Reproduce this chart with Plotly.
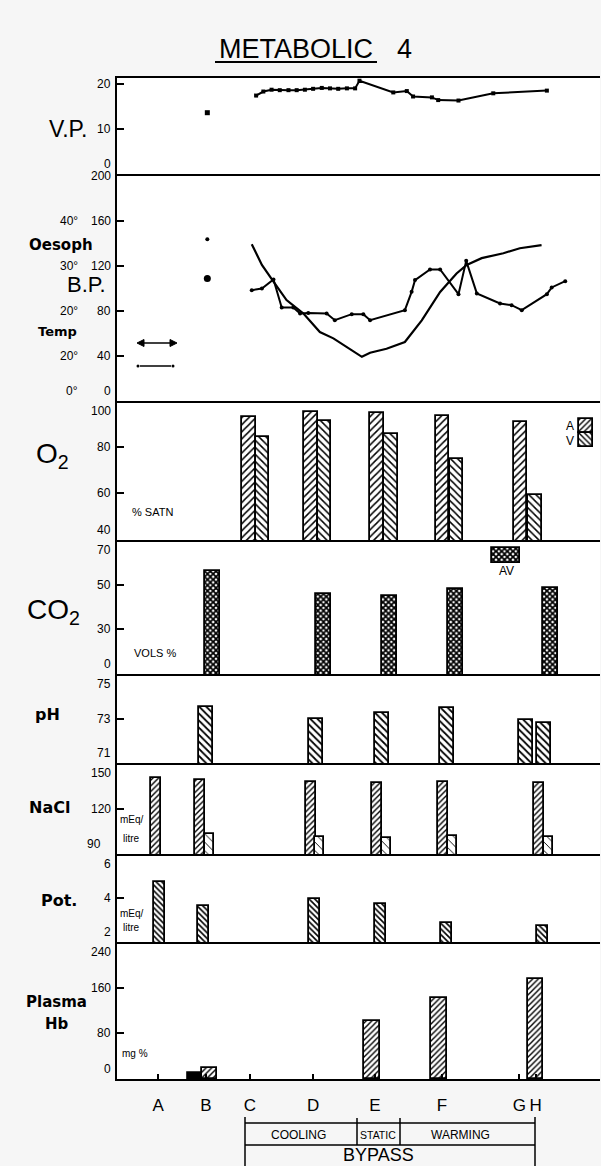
import plotly.graph_objects as go

# ---------------- data (x = time position, arbitrary units 0-100) ----------------
letters  = ["A", "B", "C", "D", "E", "F", "G", "H"]
letter_x = [8.5, 18.4, 27.5, 40.6, 53.4, 67.3, 83.3, 86.7]

vp_pre_x = [18.7]
vp_pre   = [13.6]
vp_x = [28.8, 30.3, 32.0, 33.7, 35.5, 37.2, 38.9, 40.6, 42.4, 44.1, 45.8, 47.6, 49.3,
        50.2, 57.2, 60.0, 61.3, 65.2, 66.5, 70.7, 77.9, 89.0]
vp   = [17.4, 18.3, 18.7, 18.6, 18.6, 18.6, 18.7, 18.9, 19.1, 19.0, 18.9, 19.0, 19.0,
        20.7, 18.1, 18.4, 17.2, 17.0, 16.4, 16.3, 17.9, 18.5]

bp_pre_x = [18.7]
bp_pre   = [108.8]
bp_x = [27.9, 30.0, 32.4, 34.1, 36.5, 37.9, 39.6, 43.4, 45.1, 48.6, 51.0, 52.4, 59.6,
        61.0, 61.7, 64.8, 66.9, 70.7, 72.3, 74.5, 79.3, 81.7, 83.8, 89.0, 90.0, 92.8]
bp   = [98.4, 99.9, 107.9, 83.0, 83.0, 77.7, 78.2, 77.7, 71.7, 77.1, 77.1, 71.7, 80.6,
        96.9, 107.3, 116.8, 116.8, 94.8, 124.4, 95.5, 86.6, 85.1, 80.6, 94.8, 100.8, 106.4]

temp_pre_x = [18.7]
temp_pre   = [35.9]
temp_x = [27.9, 30.0, 32.4, 35.1, 38.6, 42.0, 44.8, 50.7, 52.4, 55.8, 59.6, 63.1, 66.9,
          70.3, 72.4, 75.5, 80.0, 83.4, 87.9]
temp   = [34.8, 30.2, 26.5, 22.4, 19.4, 15.3, 13.9, 9.8, 10.7, 11.6, 13.1, 17.9, 24.2,
          28.3, 30.2, 31.7, 32.8, 33.9, 34.6]

o2_art_x = [27.3, 40.2, 53.8, 67.4, 83.5]
o2_art   = [93.2, 95.4, 94.6, 93.6, 91.0]
o2_ven_x = [30.1, 43.0, 56.7, 70.3, 86.5]
o2_ven   = [84.5, 91.3, 85.5, 74.8, 59.1]

co2_x = [19.8, 42.8, 56.4, 70.1, 89.8]
co2   = [56.0, 45.6, 45.0, 48.0, 48.5]

ph_x = [18.4, 41.1, 54.8, 68.3, 84.7, 88.4]
ph   = [7.35, 7.30, 7.325, 7.345, 7.295, 7.28]

nacl_x  = [8.1, 17.2, 40.2, 53.8, 67.5, 87.4]
nacl    = [140.0, 139.0, 137.5, 136.5, 137.5, 137.0]
nacl2_x = [19.2, 42.0, 55.8, 69.5, 89.3]
nacl2   = [103.5, 101.5, 100.5, 102.0, 101.5]

pot_x = [8.8, 17.9, 40.9, 54.5, 68.2, 88.1]
pot   = [4.73, 3.64, 3.95, 3.73, 2.86, 2.73]

hb_x  = [19.2, 52.8, 66.7, 86.6]
hb    = [19, 101, 142, 175]
hb0_x = [16.1]
hb0   = [10]

# ---------------- geometry helpers ----------------
W_FIG, H_FIG = 601, 1166
L, R_PIX = 117, 600
TOP, BOT = 78, 1079
PW, PH = R_PIX - L, BOT - TOP
FONT = "Liberation Sans"
BOLD = "DejaVu Sans"


def px(x):
    return (x - L) / PW


def py(y):
    return (BOT - y) / PH


# panel: pixel top, pixel bottom, range, tick labels, tick marks
panels = [
    dict(top=78,  bot=174,  rng=[0, 21.3],   labels=[(20, "20"), (10, "10"), (0, "0")], marks=[20, 10]),
    dict(top=174, bot=401,  rng=[0, 201.5],  labels=[(200, "200"), (160, "160"), (120, "120"), (80, "80"), (40, "40"), (0, "0")], marks=[160, 120, 80, 40]),
    dict(top=401, bot=540,  rng=[39.6, 100], labels=[(100, "100"), (80, "80"), (60, "60"), (39.6, "40")], marks=[80, 60]),
    dict(top=540, bot=674,  rng=[10, 70],    labels=[(70, "70"), (50, "50"), (30, "30"), (10, "0")], marks=[50, 30]),
    dict(top=674, bot=763,  rng=[7.1, 7.5],  labels=[(7.5, "75"), (7.3, "73"), (7.1, "71")], marks=[7.3]),
    dict(top=763, bot=854,  rng=[90, 150],   labels=[(150, "150"), (120, "120"), (90, "90")], marks=[120]),
    dict(top=854, bot=942,  rng=[2, 6],      labels=[(6, "6"), (4, "4"), (2, "2")], marks=[4]),
    dict(top=942, bot=1079, rng=[0, 240],    labels=[(240, "240"), (160, "160"), (80, "80"), (0, "0")], marks=[160, 80]),
]


def axname(i, kind):
    return kind if i == 1 else f"{kind}{i}"


def ref(i, kind):
    return kind[0] if i == 1 else f"{kind[0]}{i}"


def to_data(i, ypix):
    p = panels[i - 1]
    lo, hi = p["rng"]
    return lo + (p["bot"] - ypix) / (p["bot"] - p["top"]) * (hi - lo)


def xdata(xpix):
    return (xpix - L) / PW * 100


fig = go.Figure()

line = dict(color="black", width=1.8)


def pat(shape, size=5, sol=0.35, fg="black"):
    return dict(shape=shape, fgcolor=fg, bgcolor="white", size=size, solidity=sol, fillmode="replace")


def bar(i, x, y, w, shape, size=5, sol=0.35, fg="black", base=None, color="white"):
    b = go.Bar(x=x, y=y, width=[w] * len(x), base=base, xaxis=ref(i, "x"), yaxis=ref(i, "y"),
               marker=dict(color=color, line=line, pattern=pat(shape, size, sol, fg) if shape else None),
               showlegend=False, hoverinfo="skip")
    fig.add_trace(b)


# VP
fig.add_trace(go.Scatter(x=vp_pre_x, y=vp_pre, mode="markers", marker=dict(symbol="square", size=5, color="black"),
                         xaxis="x", yaxis="y", showlegend=False))
fig.add_trace(go.Scatter(x=vp_x, y=vp, mode="lines+markers", line=dict(color="black", width=2),
                         marker=dict(symbol="square", size=4, color="black"), xaxis="x", yaxis="y", showlegend=False))
# BP & temp
fig.add_trace(go.Scatter(x=bp_pre_x, y=bp_pre, mode="markers", marker=dict(size=7, color="black"),
                         xaxis="x2", yaxis="y2", showlegend=False))
fig.add_trace(go.Scatter(x=bp_x, y=bp, mode="lines+markers", line=dict(color="black", width=2),
                         marker=dict(size=4, color="black"), xaxis="x2", yaxis="y2", showlegend=False))
fig.add_trace(go.Scatter(x=temp_pre_x, y=temp_pre, mode="markers", marker=dict(size=4, color="black"),
                         xaxis="x2", yaxis="y9", showlegend=False))
fig.add_trace(go.Scatter(x=temp_x, y=temp, mode="lines", line=dict(color="black", width=2.2),
                         xaxis="x2", yaxis="y9", showlegend=False))
# O2
bar(3, o2_art_x, o2_art, 2.8, "/", 5, 0.3)
bar(3, o2_ven_x, o2_ven, 2.8, "\\", 5, 0.3)
# CO2
bar(4, co2_x, co2, 3.1, "x", 4, 0.7)
# pH
bar(5, ph_x, ph, 2.9, "\\", 5, 0.35)
# NaCl
bar(6, nacl_x, nacl, 2.1, "/", 4, 0.35)
bar(6, nacl2_x, nacl2, 1.9, "\\", 6, 0.15)
# Pot
bar(7, pot_x, pot, 2.3, "\\", 4, 0.4)
# Hb
bar(8, hb0_x, hb0, 2.9, None, color="black")
bar(8, hb_x, hb, 3.2, "/", 4, 0.35)

# legend keys (O2: A / V boxes, CO2: AV box)
ka = to_data(3, 419); kb = to_data(3, 433); kc = to_data(3, 447)
bar(3, [xdata(586)], [ka - kb], 2.9, "/", 4, 0.35, base=[kb])
bar(3, [xdata(586)], [kb - kc], 2.9, "\\", 4, 0.35, base=[kc])
c1 = to_data(4, 548); c2 = to_data(4, 563)
bar(4, [xdata(506)], [c1 - c2], 5.8, "x", 4, 0.7, base=[c2])

layout = dict(
    width=W_FIG, height=H_FIG,
    margin=dict(l=L, r=W_FIG - R_PIX, t=TOP, b=H_FIG - BOT),
    paper_bgcolor="#f6f6f6", plot_bgcolor="white",
    barmode="overlay", bargap=0, showlegend=False,
    font=dict(family=FONT, color="black"),
)

for i, p in enumerate(panels, start=1):
    xa = dict(domain=[0, 1], anchor=ref(i, "y"), range=[0, 100], showline=True, mirror=(i == 1),
              linecolor="black", linewidth=2.2, showgrid=False, zeroline=False,
              showticklabels=False, ticks="")
    if i > 1:
        xa["matches"] = "x"
    if i == 8:
        xa.update(ticks="inside", ticklen=5, tickwidth=1.5, tickcolor="black",
                  tickvals=letter_x, ticktext=letters, showticklabels=True, tickangle=0,
                  tickfont=dict(size=17, family=FONT), ticklabelstandoff=9)
    layout[axname(i, "xaxis")] = xa
    layout[axname(i, "yaxis")] = dict(
        domain=[py(p["bot"]), py(p["top"])], range=p["rng"], anchor=ref(i, "x"),
        showline=True, linecolor="black", linewidth=2.2, showgrid=False, zeroline=False,
        ticks="inside", tickvals=p["marks"], ticklen=7, tickwidth=2, tickcolor="black",
        showticklabels=False)

layout["yaxis9"] = dict(overlaying="y2", range=[0, panels[1]["rng"][1] / 4], anchor="x2", visible=False)

annotations = []
shapes = []

# tick labels
for i, p in enumerate(panels, start=1):
    lo, hi = p["rng"]
    for v, t in p["labels"]:
        anchor = "top" if v == hi else ("bottom" if v == lo else "middle")
        ys = -1 if anchor == "top" else (1 if anchor == "bottom" else 0)
        xs = -4
        if t == "90":
            xs = -14
        annotations.append(dict(x=0, xref="paper", y=v, yref=ref(i, "y"), text=t, showarrow=False,
                                xanchor="right", yanchor=anchor, xshift=xs, yshift=ys,
                                font=dict(size=12, family=FONT)))

# temperature scale labels in the BP panel
for v, t in [(40, "40°"), (30, "30°"), (20, "20°"), (10, "20°"), (0, "0°")]:
    annotations.append(dict(x=px(80), xref="paper", y=v, yref="y9", text=t, showarrow=False,
                            xanchor="right", yanchor="bottom" if v == 0 else "middle",
                            yshift=1 if v == 0 else 0,
                            font=dict(size=12, family=FONT)))

# panel names
names = [
    ("V.P.", 68, 129, 23, FONT, "normal"),
    ("Oesoph", 61, 245, 15, BOLD, "bold"),
    ("B.P.", 86, 284, 22, FONT, "normal"),
    ("Temp", 57, 331, 13, BOLD, "bold"),
    ("O<sub>2</sub>", 52, 455, 28, FONT, "normal"),
    ("CO<sub>2</sub>", 53, 612, 28, FONT, "normal"),
    ("pH", 47, 714, 16, BOLD, "bold"),
    ("NaCl", 49, 807, 16, BOLD, "bold"),
    ("Pot.", 59, 900, 16, BOLD, "bold"),
    ("Plasma", 56, 1002, 15, BOLD, "bold"),
    ("Hb", 57, 1024, 15, BOLD, "bold"),
]
for t, x, y, s, f, w in names:
    annotations.append(dict(x=px(x), y=py(y), xref="paper", yref="paper", text=t, showarrow=False,
                            xanchor="center", yanchor="middle", font=dict(size=s, family=f, weight=w)))

# unit notes inside panels
notes = [
    ("% SATN", 130, 512, 11), ("VOLS %", 132, 653, 11),
    ("mEq/", 118, 819, 10), ("litre", 121, 838, 10),
    ("mEq/", 118, 913, 10), ("litre", 121, 927, 10),
    ("mg %", 120, 1053, 10),
]
for t, x, y, s in notes:
    annotations.append(dict(x=px(x), y=py(y), xref="paper", yref="paper", text=t, showarrow=False,
                            xanchor="left", yanchor="middle", font=dict(size=s, family=FONT)))

# legend key texts
for t, x, y in [("A", 570, 426), ("V", 570, 441), ("AV", 506, 571)]:
    annotations.append(dict(x=px(x), y=py(y), xref="paper", yref="paper", text=t, showarrow=False,
                            xanchor="center", yanchor="middle", font=dict(size=12, family=FONT)))

# BP/temp key lines: double-headed arrow and dotted-end line
kl = dict(color="black", width=1.5)
shapes.append(dict(type="line", xref="paper", yref="paper", x0=px(140), x1=px(173), y0=py(343), y1=py(343), line=kl))
for tip, back in ((137, 144), (177, 170)):
    path = (f"M {px(tip)} {py(343)} L {px(back)} {py(339.5)} L {px(back)} {py(346.5)} Z")
    shapes.append(dict(type="path", xref="paper", yref="paper", path=path, fillcolor="black",
                       line=dict(color="black", width=1)))
shapes.append(dict(type="line", xref="paper", yref="paper", x0=px(140), x1=px(171), y0=py(366), y1=py(366), line=kl))
for cx in (138, 173):
    shapes.append(dict(type="circle", xref="paper", yref="paper", x0=px(cx - 1.5), x1=px(cx + 1.5),
                       y0=py(367.5), y1=py(364.5), fillcolor="black", line=dict(width=0)))

# title
annotations.append(dict(x=px(296), y=py(49), xref="paper", yref="paper", text="METABOLIC", showarrow=False,
                        xanchor="center", yanchor="middle", font=dict(size=27, family=FONT)))
annotations.append(dict(x=px(404), y=py(49), xref="paper", yref="paper", text="4", showarrow=False,
                        xanchor="center", yanchor="middle", font=dict(size=27, family=FONT)))
shapes.append(dict(type="line", xref="paper", yref="paper", x0=px(215), x1=px(377), y0=py(62), y1=py(62),
                   line=dict(color="black", width=2)))

# bypass phase brackets
bl = dict(color="black", width=1.5)
for x in (245, 535):
    shapes.append(dict(type="line", xref="paper", yref="paper", x0=px(x), x1=px(x), y0=py(1117), y1=py(1170), line=bl))
for x in (357, 400):
    shapes.append(dict(type="line", xref="paper", yref="paper", x0=px(x), x1=px(x), y0=py(1118), y1=py(1145), line=bl))
for y in (1123, 1145):
    shapes.append(dict(type="line", xref="paper", yref="paper", x0=px(245), x1=px(535), y0=py(y), y1=py(y), line=bl))
for t, x, s in [("COOLING", 298, 12), ("STATIC", 378, 10.5), ("WARMING", 460, 12)]:
    annotations.append(dict(x=px(x), y=py(1135), xref="paper", yref="paper", text=t, showarrow=False,
                            xanchor="center", yanchor="middle", font=dict(size=s, family=FONT)))
annotations.append(dict(x=px(378), y=py(1155), xref="paper", yref="paper", text="BYPASS", showarrow=False,
                        xanchor="center", yanchor="middle", font=dict(size=18, family=FONT)))

layout["annotations"] = annotations
layout["shapes"] = shapes
fig.update_layout(**layout)

fig.write_html("out.html", config={"displayModeBar": False},
               post_script="document.body.style.margin='0';")
